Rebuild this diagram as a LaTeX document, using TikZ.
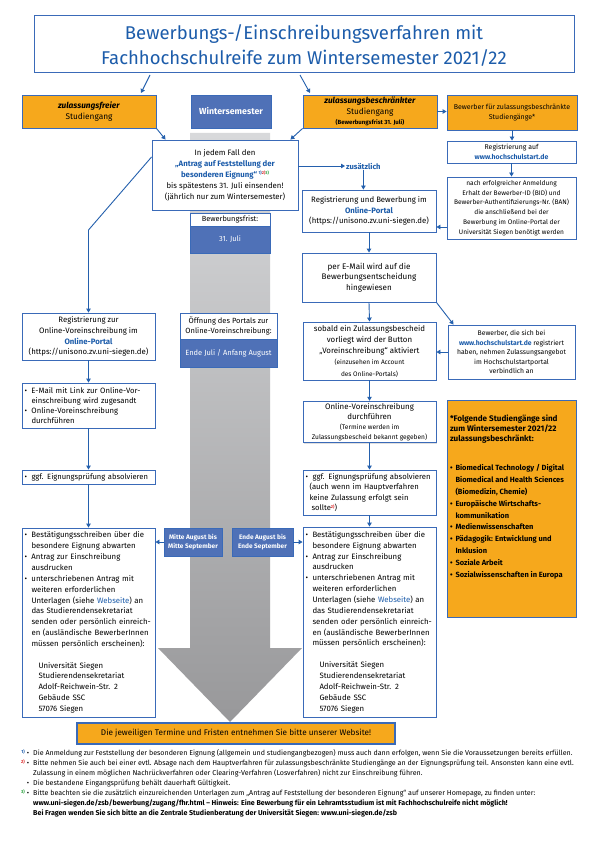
\documentclass[tikz,border=0pt]{standalone}
\usepackage{fontspec}
\setmainfont{Fira Sans}
\usetikzlibrary{arrows.meta,shadows}
\definecolor{bblue}{RGB}{58,106,184}
\definecolor{fblue}{RGB}{79,113,183}
\definecolor{oran}{RGB}{246,168,28}
\definecolor{tblue}{RGB}{28,92,170}
\definecolor{ablue}{RGB}{36,96,173}
\definecolor{fnred}{RGB}{220,40,40}
\definecolor{fngreen}{RGB}{40,160,60}
\definecolor{gtop}{RGB}{216,217,219}
\definecolor{gbot}{RGB}{152,152,154}
\newcommand\fs[2]{\fontsize{#1}{#2}\selectfont}
\newcommand\bul{\makebox[7pt][l]{•}}
\newcommand\ind{\hspace*{7pt}}
\newcommand\adr{\hspace*{14pt}}
\newcommand\blnk[1]{\textcolor{tblue}{\textbf{#1}}}
\newcommand\sups[1]{\raisebox{2.8pt}{\fs{4.2}{4.2}\bfseries #1}}
\newcommand\fnm[2]{\llap{\textcolor{#1}{\raisebox{1.8pt}{\fs{4.4}{4.4}\bfseries #2}}\hspace{2pt}•\hspace{4pt}}}
\newcommand\mkbox[7]{%
  \pgfmathsetmacro\mkCX{(#2+#4)/2}%
  \pgfmathsetmacro\mkCY{(#3+#5)/2}%
  \pgfmathsetmacro\mkW{#4-#2}%
  \pgfmathsetmacro\mkH{#5-#3}%
  \pgfmathsetmacro\mkTW{#4-#2-5}%
  \node[#6, minimum width=\mkW pt, minimum height=\mkH pt] (#1) at (\mkCX,\mkCY) {#7};}
\begin{document}
\begin{tikzpicture}[x=1pt,y=-1pt,
  box/.style={draw=bblue, line width=0.9pt, fill=white, inner sep=2pt, align=center,
    font=\fs{7.8}{10.6},
    drop shadow={shadow xshift=0.9pt, shadow yshift=-0.9pt, opacity=0.25}},
  lbox/.style={box, align=left, text width=\mkTW pt, inner xsep=2.5pt},
  obox/.style={box, fill=oran},
  fbx/.style={draw=bblue, line width=0.6pt, fill=fblue, text=white, inner sep=1pt, align=center},
  wbx/.style={draw=bblue, line width=0.6pt, fill=white, inner sep=1pt, align=center},
  arr/.style={draw=ablue, line width=0.9pt, -{Triangle[length=4pt,width=4.5pt]}},
]
\useasboundingbox[fill=white] (0,0) rectangle (595,842);

% grey time arrow
\shade[top color=gtop, bottom color=gbot]
  (190,133) -- (270,133) -- (270,648) -- (302,648) -- (230,722) -- (158,648) -- (190,648) -- cycle;

% title
\mkbox{title}{34}{15}{574}{72}{box, font=\fs{18.5}{25}, text=tblue}{\rule{0pt}{19pt}Bewerbungs-/Einschreibungsverfahren mit\\Fachhochschulreife zum Wintersemester 2021/22}

% second row
\mkbox{frei}{22}{95}{156}{128}{obox, font=\fs{8.3}{11}}{\textbf{\textit{zulassungsfreier}}\\Studiengang}
\mkbox{ws}{191}{95}{271}{128}{fbx, font=\fs{8.8}{10}\bfseries}{Wintersemester}
\mkbox{beschr}{303}{95}{437}{128}{obox, font=\fs{8.3}{10.5}}{\textbf{\textit{zulassungsbeschränkter}}\\Studiengang\\{\fs{6}{9}\bfseries(Bewerbungsfrist 31. Juli)}}
\mkbox{bew}{447}{95}{577}{130}{obox, font=\fs{7}{10.5}}{Bewerber für zulassungsbeschränkte\\Studiengänge*}

\draw[arr] (150,75) -- (141,93);
\draw[arr] (300,75) -- (310,93);
\draw[arr] (beschr.east) -- (beschr.east -| bew.west);

% central box
\mkbox{jedem}{152}{140}{298}{210}{box, font=\fs{7.8}{11}}{In jedem Fall den\\\textcolor{tblue}{\textbf{„Antrag auf Feststellung der}}\\\textcolor{tblue}{\textbf{besonderen Eignung“}}\,\sups{\textcolor{tblue}{1)}\textcolor{fnred}{2)}\textcolor{fngreen}{3)}}\\bis spätestens 31. Juli einsenden!\\(jährlich nur zum Wintersemester)}
\draw[arr] (frei.south east) -- ([xshift=14pt]jedem.north west);
\draw[arr] (beschr.south west) -- ([xshift=-8pt]jedem.north east);

\mkbox{fristlbl}{190}{213}{270}{226}{wbx, font=\fs{7.4}{8}}{Bewerbungsfrist:}
\mkbox{frist}{190}{226}{270}{253}{fbx, font=\fs{7.4}{8}}{31. Juli}

% right column
\mkbox{hsreg}{447}{141}{576}{163}{box, font=\fs{6.9}{9.5}}{Registrierung auf\\\blnk{www.hochschulstart.de}}
\mkbox{bid}{447}{177}{576}{239}{box, font=\fs{6.6}{9.8}}{nach erfolgreicher Anmeldung\\Erhalt der Bewerber-ID (BID) und\\Bewerber-Authentifizierungs-Nr. (BAN)\\die anschließend bei der\\Bewerbung im Online-Portal der\\Universität Siegen benötigt werden}
\draw[arr] (bew.south) -- (bew.south |- hsreg.north);
\draw[arr] (hsreg.south) -- (hsreg.south |- bid.north);

\node[text=tblue, font=\fs{7.6}{9}\bfseries, anchor=west, inner sep=1pt] (zus) at (345,166) {zusätzlich};
\draw[arr] (jedem.east |- zus.west) -- (zus.west);

\mkbox{regbew}{302}{190}{436}{232}{box, font=\fs{7.8}{10.6}}{Registrierung und Bewerbung im\\\blnk{Online-Portal}\\(https://unisono.zv.uni-siegen.de)}
\draw[arr] (zus.south) -- (zus.south |- regbew.north);
\draw[arr] ([yshift=-19pt]bid.west) -- ([yshift=-19pt]bid.west -| regbew.east);

\mkbox{email}{302}{253}{436}{302}{box, font=\fs{8.1}{10.6}}{per E-Mail wird auf die\\Bewerbungsentscheidung\\hingewiesen}
\draw[arr] (regbew.south) -- (email.north);

\mkbox{sobald}{303}{322}{436}{380}{box, font=\fs{7.9}{11.2}}{sobald ein Zulassungsbescheid\\vorliegt wird der Button\\„Voreinschreibung“ aktiviert\\{\fs{6.5}{10}(einzusehen im Account}\\{\fs{6.5}{10}des Online-Portals)}}
\draw[arr] (email.south) -- (sobald.north);

\mkbox{hsann}{448}{325}{575}{379}{box, font=\fs{6.8}{9.6}}{Bewerber, die sich bei\\\blnk{www.hochschulstart.de} registriert\\haben, nehmen Zulassungsangebot\\im Hochschulstartportal\\verbindlich an}
\draw[arr] (email.south east) -- ([xshift=6pt]hsann.north west);
\draw[arr] (hsann.west) -- (hsann.west -| sobald.east);

\mkbox{ovr}{303}{402}{436}{442}{box, font=\fs{7.9}{10}}{Online-Voreinschreibung\\durchführen\\{\fs{6.6}{10}(Termine werden im}\\{\fs{6.6}{10}Zulassungsbescheid bekannt gegeben)}}
\draw[arr] (sobald.south) -- (ovr.north);

\mkbox{eigr}{303}{470}{436}{515}{lbox, font=\fs{7.7}{10.6}}{\bul ggf. Eignungsprüfung absolvieren\\\hspace*{4pt}(auch wenn im Hauptverfahren\\\hspace*{4pt}keine Zulassung erfolgt sein\\\hspace*{6pt}sollte\sups{\textcolor{fnred}{2)}})}
\draw[arr] (ovr.south) -- (eigr.north);

\mkbox{bigr}{303}{527}{436}{717}{lbox, font=\fs{7.8}{10.85}}{\bul Bestätigungsschreiben über die\\\ind besondere Eignung abwarten\\\bul Antrag zur Einschreibung\\\ind ausdrucken\\\bul unterschriebenen Antrag mit\\\ind weiteren erforderlichen\\\ind Unterlagen (siehe \textcolor{tblue}{Webseite}) an\\\ind das Studierendensekretariat\\\ind senden oder persönlich einreich-\\\ind en (ausländische BewerberInnen\\\ind müssen persönlich erscheinen):\\[10.85pt]\adr Universität Siegen\\\adr Studierendensekretariat\\\adr Adolf-Reichwein-Str. 2\\\adr Gebäude SSC\\\adr 57076 Siegen}
\draw[arr] (eigr.south) -- (bigr.north);

% orange list
\mkbox{liste}{447}{400}{576}{617}{obox, inner sep=3pt}{\parbox[c][210pt][t]{123pt}{\raggedright\bfseries\fs{8.1}{10}\rule{0pt}{18pt}*Folgende Studiengänge sind\\zum Wintersemester 2021/22\\zulassungsbeschränkt:\par\vspace{17pt}\fs{7.5}{11.9}%
\makebox[5.5pt][l]{•}Biomedical Technology / Digital\\\hspace*{5.5pt}Biomedical and Health Sciences\\\hspace*{5.5pt}(Biomedizin, Chemie)\\\makebox[5.5pt][l]{•}Europäische Wirtschafts-\\\hspace*{5.5pt}kommunikation\\\makebox[5.5pt][l]{•}Medienwissenschaften\\\makebox[5.5pt][l]{•}Pädagogik: Entwicklung und\\\hspace*{5.5pt}Inklusion\\\makebox[5.5pt][l]{•}Soziale Arbeit\\\makebox[5.5pt][l]{•}Sozialwissenschaften in Europa}}

% left column
\coordinate (lbend) at (88.5,230);
\mkbox{regl}{22}{313}{155}{360}{box, font=\fs{7.8}{10.6}}{Registrierung zur\\Online-Voreinschreibung im\\\blnk{Online-Portal}\\(https://unisono.zv.uni-siegen.de)}
\draw[arr] ([yshift=18pt]jedem.west) -- (lbend) -- (lbend |- regl.north);

\mkbox{maill}{22}{383}{155}{428}{lbox, font=\fs{7.7}{9.8}}{\bul E-Mail mit Link zur Online-Vor-\\\ind einschreibung wird zugesandt\\\bul Online-Voreinschreibung\\\ind durchführen}
\draw[arr] (regl.south) -- (maill.north);

\mkbox{eigl}{22}{470}{155}{484}{lbox, font=\fs{7.6}{9}, inner ysep=1pt}{\bul ggf. Eignungsprüfung absolvieren}
\draw[arr] (maill.south) -- (eigl.north);

\mkbox{bigl}{22}{528}{155}{717}{lbox, font=\fs{7.8}{10.85}}{\bul Bestätigungsschreiben über die\\\ind besondere Eignung abwarten\\\bul Antrag zur Einschreibung\\\ind ausdrucken\\\bul unterschriebenen Antrag mit\\\ind weiteren erforderlichen\\\ind Unterlagen (siehe \textcolor{tblue}{Webseite}) an\\\ind das Studierendensekretariat\\\ind senden oder persönlich einreich-\\\ind en (ausländische BewerberInnen\\\ind müssen persönlich erscheinen):\\[10.85pt]\adr Universität Siegen\\\adr Studierendensekretariat\\\adr Adolf-Reichwein-Str. 2\\\adr Gebäude SSC\\\adr 57076 Siegen}
\draw[arr] (eigl.south) -- (bigl.north);

% middle column
\mkbox{oeffn}{180}{313}{277}{339}{wbx, font=\fs{7.5}{10}}{Öffnung des Portals zur\\Online-Voreinschreibung:}
\mkbox{oeffd}{180}{339}{277}{367}{fbx, font=\fs{7.5}{9}}{Ende Juli / Anfang August}
\mkbox{mitte}{164}{528}{222}{556}{fbx, font=\fs{6.5}{9}\bfseries}{Mitte August bis\\Mitte September}
\mkbox{ende}{232}{528}{293}{556}{fbx, font=\fs{6.5}{9}\bfseries}{Ende August bis\\Ende September}
\draw[arr] (mitte.west) -- (mitte.west -| bigl.east);
\draw[arr] (ende.east) -- (ende.east -| bigr.west);

% banner
\mkbox{banner}{77}{723}{395}{744}{draw=bblue, line width=2pt, fill=oran, inner sep=1pt, font=\fs{8.2}{9}}{Die jeweiligen Termine und Fristen entnehmen Sie bitte unserer Website!}

% footnotes
\node[anchor=north west, align=left, inner sep=0, font=\fs{7.1}{10}] (fn) at (33,749) {%
\fnm{tblue}{1)}Die Anmeldung zur Feststellung der besonderen Eignung (allgemein und studiengangbezogen) muss auch dann erfolgen, wenn Sie die Voraussetzungen bereits erfüllen.\\
\fnm{fnred}{2)}Bitte nehmen Sie auch bei einer evtl. Absage nach dem Hauptverfahren für zulassungsbeschränkte Studiengänge an der Eignungsprüfung teil. Ansonsten kann eine evtl.\\
Zulassung in einem möglichen Nachrückverfahren oder Clearing-Verfahren (Losverfahren) nicht zur Einschreibung führen.\\
\llap{•\hspace{4pt}}Die bestandene Eingangsprüfung behält dauerhaft Gültigkeit.\\
\fnm{fngreen}{3)}Bitte beachten sie die zusätzlich einzureichenden Unterlagen zum „Antrag auf Feststellung der besonderen Eignung“ auf unserer Homepage, zu finden unter:\\
\textbf{www.uni-siegen.de/zsb/bewerbung/zugang/fhr.html – Hinweis: Eine Bewerbung für ein Lehramtsstudium ist mit Fachhochschulreife nicht möglich!}\\
\textbf{Bei Fragen wenden Sie sich bitte an die Zentrale Studienberatung der Universität Siegen: www.uni-siegen.de/zsb}};
\end{tikzpicture}
\end{document}
